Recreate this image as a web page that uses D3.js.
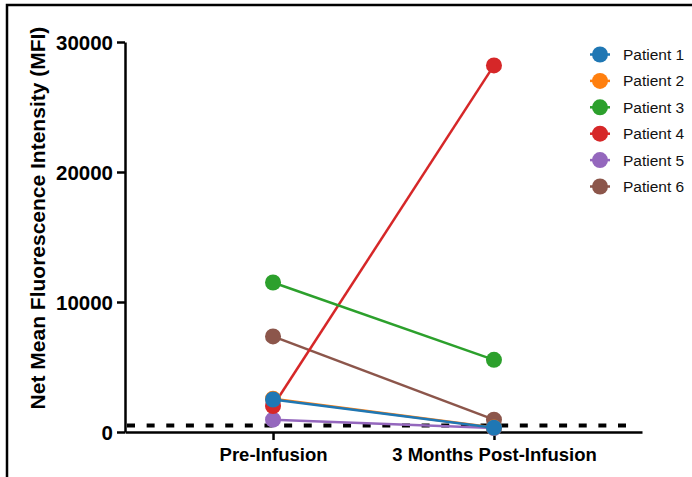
<!DOCTYPE html>
<html>
<head>
<meta charset="utf-8">
<script src="https://cdn.jsdelivr.net/npm/d3@7"></script>
<style>
  body { margin: 0; background: #fff; }
  svg { display: block; font-family: Arial, "Liberation Sans", sans-serif; }
</style>
</head>
<body>
<div id="chart"></div>
<script>
var width = 692,
    height = 477;

// data
var timepoints = ["Pre-Infusion", "3 Months Post-Infusion"];
var patients = ["Patient 1", "Patient 2", "Patient 3", "Patient 4", "Patient 5", "Patient 6"];
var preValues = [2500, 2560, 11500, 2000, 950, 7350];
var postValues = [330, 340, 5550, 28200, 300, 950];
var colors = ["#1f77b4", "#ff7f0e", "#2ca02c", "#d62728", "#9467bd", "#8c564b"];
var yTicks = [0, 10000, 20000, 30000];
var threshold = 500;

var x = d3.scalePoint()
    .domain(timepoints)
    .range([125, 642])
    .padding(0.67);

var y = d3.scaleLinear()
    .domain([0, 30000])
    .range([432, 42]);

var svg = d3.select("#chart").append("svg")
    .attr("width", width)
    .attr("height", height);

// frame (top + left only)
svg.append("path")
    .attr("d", "M7,477V5H692")
    .attr("fill", "none")
    .attr("stroke", "#000")
    .attr("stroke-width", 2.5);

// y axis
var yAxis = svg.append("g")
    .attr("transform", "translate(125,0)")
    .call(d3.axisLeft(y).tickValues(yTicks).tickFormat(d3.format("d")).tickSize(8).tickPadding(4).tickSizeOuter(0));
yAxis.selectAll("text")
    .attr("font-size", 20.5)
    .attr("font-weight", "bold")
    .attr("fill", "#000")
    .attr("dy", "0.36em");

// x axis
var xAxis = svg.append("g")
    .attr("transform", "translate(0,432)")
    .call(d3.axisBottom(x).tickSize(8).tickPadding(8).tickSizeOuter(0));
xAxis.selectAll("text")
    .attr("font-size", 18.5)
    .attr("font-weight", "bold")
    .attr("fill", "#000");

svg.selectAll(".domain, .tick line")
    .attr("stroke", "#000")
    .attr("stroke-width", 2.5);

// y label
svg.append("text")
    .attr("transform", "translate(45,218) rotate(-90)")
    .attr("text-anchor", "middle")
    .attr("font-size", 21)
    .attr("font-weight", "bold")
    .text("Net Mean Fluorescence Intensity (MFI)");

// threshold dashed line
svg.append("line")
    .attr("x1", 127)
    .attr("x2", 627)
    .attr("y1", y(threshold))
    .attr("y2", y(threshold))
    .attr("stroke", "#000")
    .attr("stroke-width", 4)
    .attr("stroke-dasharray", "8,11.64");

// series, drawn last-to-first so Patient 1 sits on top
var series = patients.map(function(p, i) {
    return { name: p, color: colors[i], values: [preValues[i], postValues[i]] };
});

var groups = svg.selectAll(".patient")
    .data(series.slice().reverse())
    .enter().append("g")
    .attr("class", "patient");

groups.append("path")
    .attr("fill", "none")
    .attr("stroke", function(d) { return d.color; })
    .attr("stroke-width", 2.5)
    .attr("d", function(d) {
        return d3.line()
            .x(function(v, j) { return x(timepoints[j]); })
            .y(function(v) { return y(v); })(d.values);
    });

groups.selectAll("circle")
    .data(function(d) { return d.values.map(function(v, j) { return { v: v, t: timepoints[j], color: d.color }; }); })
    .enter().append("circle")
    .attr("cx", function(d) { return x(d.t); })
    .attr("cy", function(d) { return y(d.v); })
    .attr("r", 8)
    .attr("fill", function(d) { return d.color; });

// legend
var legend = svg.selectAll(".legend")
    .data(series)
    .enter().append("g")
    .attr("class", "legend")
    .attr("transform", function(d, i) { return "translate(600," + (54.5 + i * 26.4) + ")"; });

legend.append("line")
    .attr("x1", -10)
    .attr("x2", 10)
    .attr("stroke", function(d) { return d.color; })
    .attr("stroke-width", 2.5);

legend.append("circle")
    .attr("r", 8)
    .attr("fill", function(d) { return d.color; });

legend.append("text")
    .attr("x", 23)
    .attr("dy", "0.36em")
    .attr("font-size", 15.5)
    .attr("fill", "#111")
    .text(function(d) { return d.name; });
</script>
</body>
</html>
